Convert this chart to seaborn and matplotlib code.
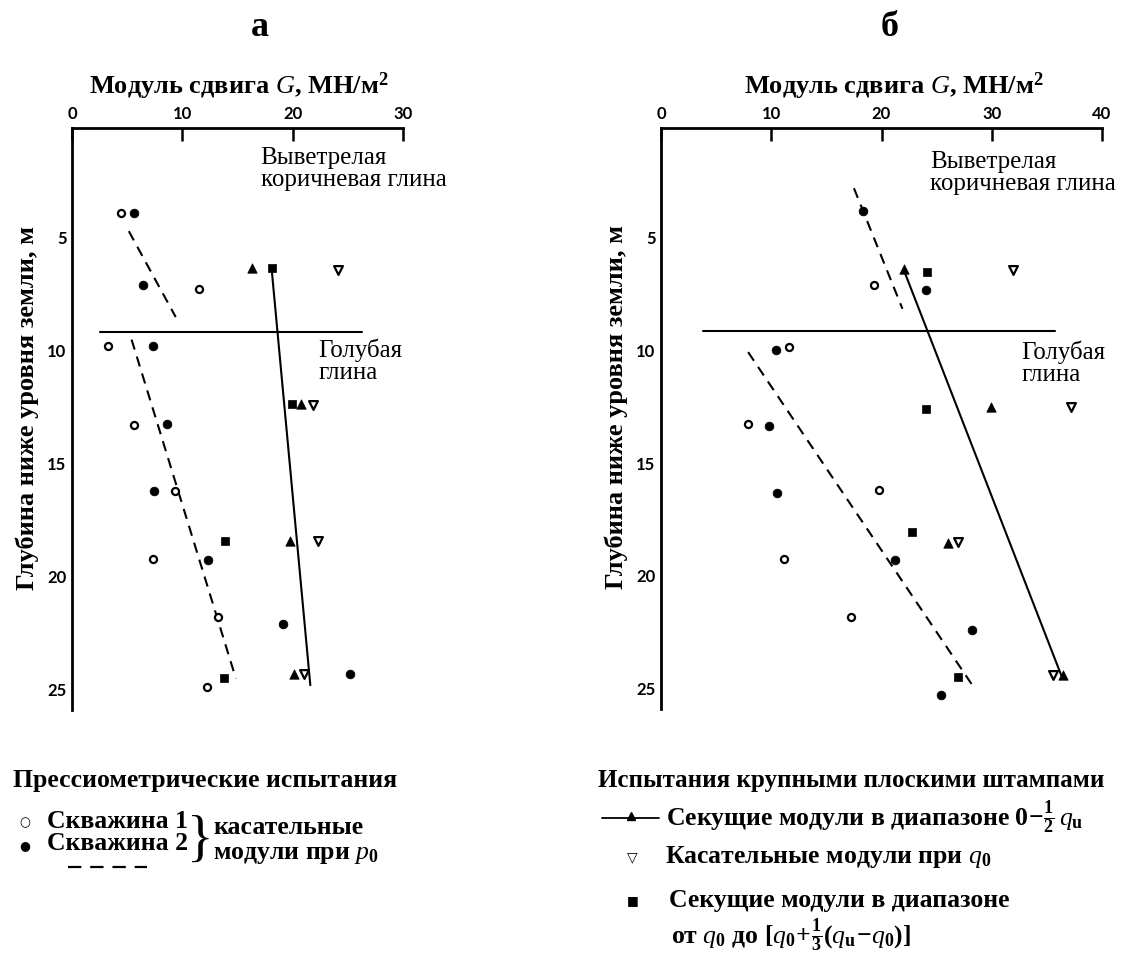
import matplotlib
matplotlib.use("Agg")
import matplotlib.pyplot as plt
import seaborn as sns
from matplotlib.lines import Line2D

sns.set_theme(style="white")
plt.rcParams['font.family'] = ['Liberation Serif', 'DejaVu Sans']
plt.rcParams['mathtext.fontset'] = 'custom'
plt.rcParams['mathtext.rm'] = 'Liberation Serif:bold'
plt.rcParams['mathtext.it'] = 'Liberation Serif:italic'
plt.rcParams['mathtext.bf'] = 'Liberation Serif:bold'
plt.rcParams['text.color'] = 'black'
plt.rcParams['axes.labelcolor'] = 'black'
plt.rcParams['xtick.color'] = 'black'
plt.rcParams['ytick.color'] = 'black'

# ---------------- data: panel a ----------------
a_bh1_G = [4.45, 11.5, 3.3, 5.6, 9.3, 7.3, 13.2, 12.2]
a_bh1_d = [3.9, 7.25, 9.8, 13.27, 16.2, 19.2, 21.8, 24.9]
a_bh2_G = [5.6, 6.4, 7.3, 8.6, 7.4, 12.3, 19.1, 25.2]
a_bh2_d = [3.9, 7.1, 9.8, 13.25, 16.2, 19.25, 22.1, 24.3]
a_sec_G = [16.3, 20.8, 19.8, 20.1]
a_sec_d = [6.35, 12.35, 18.4, 24.3]
a_tan_G = [24.1, 21.8, 22.3, 21.0]
a_tan_d = [6.4, 12.4, 18.4, 24.3]
a_sq_G = [18.1, 19.9, 13.9, 13.75]
a_sq_d = [6.35, 12.35, 18.4, 24.5]
a_dash1_G = [5.15, 9.4]
a_dash1_d = [4.7, 8.5]
a_dash2_G = [5.4, 14.85]
a_dash2_d = [9.5, 24.5]
a_solid_G = [18.1, 21.6]
a_solid_d = [6.4, 24.8]
a_bound_G = [2.5, 26.3]
a_bound_d = [9.15, 9.15]

# ---------------- data: panel b ----------------
b_bh1_G = [19.3, 11.6, 7.9, 19.8, 11.2, 17.2]
b_bh1_d = [7.1, 9.85, 13.26, 16.2, 19.26, 21.8]
b_bh2_G = [18.3, 24.0, 10.4, 9.8, 10.5, 21.2, 28.2, 25.4]
b_bh2_d = [3.8, 7.3, 9.97, 13.36, 16.3, 19.3, 22.4, 25.3]
b_sec_G = [22.0, 29.9, 26.0, 36.5]
b_sec_d = [6.37, 12.5, 18.55, 24.4]
b_tan_G = [31.9, 37.2, 26.9, 35.6]
b_tan_d = [6.45, 12.5, 18.5, 24.4]
b_sq_G = [24.1, 24.0, 22.8, 26.9]
b_sq_d = [6.5, 12.6, 18.07, 24.5]
b_dash1_G = [17.5, 21.9]
b_dash1_d = [2.8, 8.15]
b_dash2_G = [7.9, 28.4]
b_dash2_d = [10.07, 24.96]
b_solid_G = [22.0, 36.3]
b_solid_d = [6.4, 24.4]
b_bound_G = [3.85, 35.75]
b_bound_d = [9.14, 9.14]

a_xticks = [0, 10, 20, 30]
b_xticks = [0, 10, 20, 30, 40]
yticks = [5, 10, 15, 20, 25]

xlabel = "Модуль сдвига $G$, МН/м$^{2}$"
ylabel = "Глубина ниже уровня земли, м"

W, H = 1123, 959
fig = plt.figure(figsize=(W / 100, H / 100), dpi=100)


def px_axes(l, t, r, b):
    return fig.add_axes([l / W, 1 - b / H, (r - l) / W, (b - t) / H])


ax_a = px_axes(72, 128, 403, 710)
ax_b = px_axes(661, 128, 1102, 709)

DASH = (0, (5, 3.5))


def draw_panel(ax, bh1, bh2, sec, tan, sq, dash1, dash2, solid, bound, xmax, xticks):
    for G, d, ls in [(bound[0], bound[1], '-'), (dash1[0], dash1[1], DASH),
                     (dash2[0], dash2[1], DASH), (solid[0], solid[1], '-')]:
        sns.lineplot(x=G, y=d, ax=ax, color='black', linewidth=1.5,
                     linestyle=ls, sort=False, estimator=None)
    sns.scatterplot(x=bh1[0], y=bh1[1], ax=ax, marker='o', s=26,
                    facecolor='white', edgecolor='black', linewidth=1.6, zorder=3)
    sns.scatterplot(x=bh2[0], y=bh2[1], ax=ax, marker='o', s=40,
                    color='black', edgecolor='black', linewidth=0.5, zorder=3)
    sns.scatterplot(x=sec[0], y=sec[1], ax=ax, marker='^', s=46,
                    color='black', edgecolor='black', linewidth=0.5, zorder=3)
    sns.scatterplot(x=tan[0], y=tan[1], ax=ax, marker='v', s=40,
                    facecolor='white', edgecolor='black', linewidth=1.6, zorder=3)
    sns.scatterplot(x=sq[0], y=sq[1], ax=ax, marker='s', s=36,
                    color='black', edgecolor='black', linewidth=0.5, zorder=3)
    ax.set_xlim(0, xmax)
    ax.set_ylim(25.9, 0.13)
    ax.set_xticks(xticks)
    ax.set_yticks(yticks)
    ax.xaxis.tick_top()
    ax.xaxis.set_label_position('top')
    for s in ['right', 'bottom']:
        ax.spines[s].set_visible(False)
    for s in ['left', 'top']:
        ax.spines[s].set_linewidth(2.0)
        ax.spines[s].set_color('black')
    ax.tick_params(axis='both', direction='in', length=9, width=1.8,
                   colors='black', labelsize=12, pad=4)
    for lab in ax.get_xticklabels() + ax.get_yticklabels():
        lab.set_family(['Lato', 'DejaVu Sans'])
        lab.set_fontweight('bold')
    ax.set_xlabel(xlabel, fontsize=19, fontweight='bold')
    ax.set_ylabel(ylabel, fontsize=19, fontweight='bold')
    ax.grid(False)
    ax.set_facecolor('white')


draw_panel(ax_a, (a_bh1_G, a_bh1_d), (a_bh2_G, a_bh2_d), (a_sec_G, a_sec_d),
           (a_tan_G, a_tan_d), (a_sq_G, a_sq_d), (a_dash1_G, a_dash1_d),
           (a_dash2_G, a_dash2_d), (a_solid_G, a_solid_d), (a_bound_G, a_bound_d),
           30, a_xticks)
draw_panel(ax_b, (b_bh1_G, b_bh1_d), (b_bh2_G, b_bh2_d), (b_sec_G, b_sec_d),
           (b_tan_G, b_tan_d), (b_sq_G, b_sq_d), (b_dash1_G, b_dash1_d),
           (b_dash2_G, b_dash2_d), (b_solid_G, b_solid_d), (b_bound_G, b_bound_d),
           40, b_xticks)

ax_a.xaxis.set_label_coords(0.505, 1.058)
ax_b.xaxis.set_label_coords(0.528, 1.058)
ax_a.yaxis.set_label_coords(-0.1, 0.519)
ax_b.yaxis.set_label_coords(-0.075, 0.519)

# zone annotations
ZF = 18
ax_a.text(17.1, 0.95, "Выветрелая\nкоричневая глина", ha='left', va='top',
          fontsize=ZF, linespacing=1.0)
ax_a.text(22.3, 9.45, "Голубая\nглина", ha='left', va='top',
          fontsize=ZF, linespacing=1.0)
ax_b.text(24.4, 1.15, "Выветрелая\nкоричневая глина", ha='left', va='top',
          fontsize=ZF, linespacing=1.0)
ax_b.text(32.7, 9.55, "Голубая\nглина", ha='left', va='top',
          fontsize=ZF, linespacing=1.0)

# panel letters
fig.text(260 / W, 1 - 28 / H, "а", ha='center', va='center', fontsize=26, fontweight='bold')
fig.text(890 / W, 1 - 28 / H, "б", ha='center', va='center', fontsize=26, fontweight='bold')


def ftext(x, y, s, **kw):
    kw.setdefault('va', 'center')
    kw.setdefault('ha', 'left')
    return fig.text(x / W, 1 - y / H, s, **kw)


# legend, panel a
LF = 18.5
ftext(13, 781, "Прессиометрические испытания", fontsize=LF, fontweight='bold')
ftext(25, 823, "○", fontsize=9, family=['DejaVu Sans'], ha='center')
ftext(25, 846, "●", fontsize=9, family=['DejaVu Sans'], ha='center')
ftext(47, 821, "Скважина 1", fontsize=LF, fontweight='bold')
ftext(47, 844, "Скважина 2", fontsize=LF, fontweight='bold')
fig.add_artist(Line2D([68 / W, 147 / W], [1 - 867 / H, 1 - 867 / H], color='black',
                      linewidth=1.6, linestyle=(0, (6, 4))))
ftext(200, 842, "}", fontsize=40, fontweight='normal', ha='center')
ftext(213, 827, "касательные", fontsize=LF, fontweight='bold')
ftext(213, 854, "модули при $p_{\\mathrm{0}}$", fontsize=LF, fontweight='bold')

# legend, panel b
ftext(598, 781, "Испытания крупными плоскими штампами", fontsize=18, fontweight='bold')
fig.add_artist(Line2D([602 / W, 659 / W], [1 - 818 / H, 1 - 818 / H], color='black',
                      linewidth=1.3))
fig.add_artist(Line2D([631 / W], [1 - 816 / H], color='black', marker='^',
                      markersize=6, linestyle='none'))
ftext(666, 818, "Секущие модули в диапазоне $0\\!-\\!\\frac{1}{2}\\,q_{\\mathrm{u}}$",
      fontsize=LF, fontweight='bold')
ftext(632, 857, "▽", fontsize=10, family=['DejaVu Sans'], ha='center')
ftext(665, 857, "Касательные модули при $q_{\\mathrm{0}}$", fontsize=LF, fontweight='bold')
ftext(633, 901, "■", fontsize=9, family=['DejaVu Sans'], ha='center')
ftext(669, 901, "Секущие модули в диапазоне", fontsize=LF, fontweight='bold')
ftext(671, 936,
      "от $q_{\\mathrm{0}}$ до $[q_{\\mathrm{0}}\\!+\\!\\frac{1}{3}(q_{\\mathrm{u}}\\!-\\!q_{\\mathrm{0}})]$",
      fontsize=LF, fontweight='bold')

fig.savefig("out.png", dpi=100, facecolor='white')
